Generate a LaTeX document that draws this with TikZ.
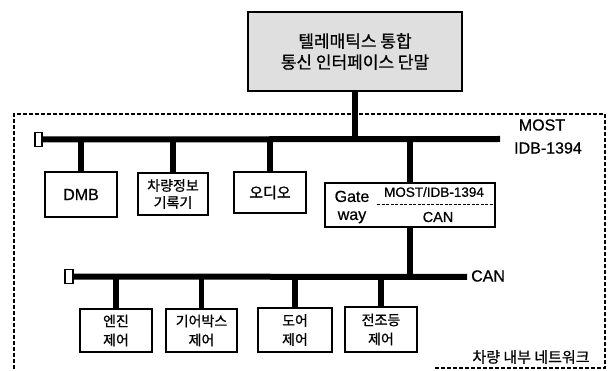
\documentclass[tikz,border=0pt]{standalone}
\usepackage{fontspec}
\setmainfont[FakeBold=0.6]{Liberation Sans}
\newfontfamily\kr[FakeBold=0.8]{Noto Sans CJK KR}
\begin{document}
\begin{tikzpicture}[x=1pt,y=-1pt,
 box/.style={draw,line width=1.3pt,fill=white,inner sep=0pt,align=center,font=\kr\fontsize{14}{19}\selectfont},
 bus/.style={line width=6pt},
 drop/.style={line width=5.5pt},
 endcap/.style={draw,line width=1.1pt,fill=white,minimum width=7pt,minimum height=14pt,inner sep=0pt},
 frame/.style={line width=1.4pt,dash pattern=on 4pt off 2pt},
 lbl/.style={font=\fontsize{16}{18}\selectfont,inner sep=0pt}]
\useasboundingbox (0,0) rectangle (610,371);
% frame
\coordinate (f1) at (435,368);
\coordinate (f2) at (605,368);
\coordinate (f3) at (605,114);
\coordinate (f4) at (14,114);
\coordinate (f5) at (14,371);
\draw[frame] (f1) -- (f2) -- (f3) -- (f4) -- (f5);
% top terminal
\node[box,fill=gray!25,minimum width=214pt,minimum height=79pt,font=\kr\fontsize{17}{21}\selectfont] (tel) at (355,51.5) {텔레매틱스 통합\\통신 인터페이스 단말};
% MOST bus
\node[endcap] (mostcap) at (38.5,139.5) {};
\coordinate (mostR) at (500,139);
\draw[bus] (mostcap.east) -- (mostR);
\draw[drop] (tel.south) -- (tel.south |- mostR);
\node[lbl] (mostlbl) at (542,125) {MOST};
\node[lbl] (idb) at (548,148) {IDB-1394};
% devices on MOST
\node[box,minimum width=72pt,minimum height=45pt,font=\fontsize{16}{18}\selectfont] (dmb) at (81,194.5) {DMB};
\node[box,minimum width=70pt,minimum height=42pt,font=\kr\fontsize{14}{17}\selectfont] (car) at (173,194) {차량정보\\기록기};
\node[box,minimum width=72pt,minimum height=41pt,font=\kr\fontsize{15}{18}\selectfont] (audio) at (270,192.5) {오디오};
\node[box,minimum width=170pt,minimum height=44pt] (gw) at (410,205) {};
\foreach \n in {dmb,car,audio,gw} \draw[drop] (\n.north) -- (\n.north |- mostR);
% gateway contents
\node[align=center,inner sep=0pt,font=\fontsize{16}{18}\selectfont] (gate) at (352,207) {Gate\\way};
\node[inner sep=0pt,font=\fontsize{13.5}{15}\selectfont] (gwtop) at (434,192) {MOST/IDB-1394};
\node[inner sep=0pt,font=\fontsize{14.5}{16}\selectfont] (gwcan) at (438,217) {CAN};
\coordinate (gdl) at (377,205);
\coordinate (gdr) at (493,205);
\draw[line width=1pt,dash pattern=on 3pt off 1.5pt] (gdl) -- (gdr);
% CAN bus
\node[endcap,minimum width=8pt] (cancap) at (69,276.5) {};
\coordinate (canR) at (467,277);
\draw[bus] (cancap.east) -- (canR);
\draw[drop] (gw.south) -- (gw.south |- canR);
\node[lbl,anchor=west] (canlbl) at (471,276) {CAN};
% devices on CAN
\node[box,minimum width=72pt,minimum height=43pt] (eng) at (116,330.5) {엔진\\제어};
\node[box,minimum width=71pt,minimum height=43pt] (gear) at (201.5,330.5) {기어박스\\제어};
\node[box,minimum width=74pt,minimum height=44pt] (door) at (295,330) {도어\\제어};
\node[box,minimum width=72pt,minimum height=45pt] (head) at (381,329.5) {전조등\\제어};
\foreach \n in {eng,gear,door,head} \draw[drop] (\n.north) -- (\n.north |- canR);
% network label
\node[inner sep=0pt,font=\kr\fontsize{15}{18}\selectfont] (net) at (531,357) {차량 내부 네트워크};
\end{tikzpicture}
\end{document}
